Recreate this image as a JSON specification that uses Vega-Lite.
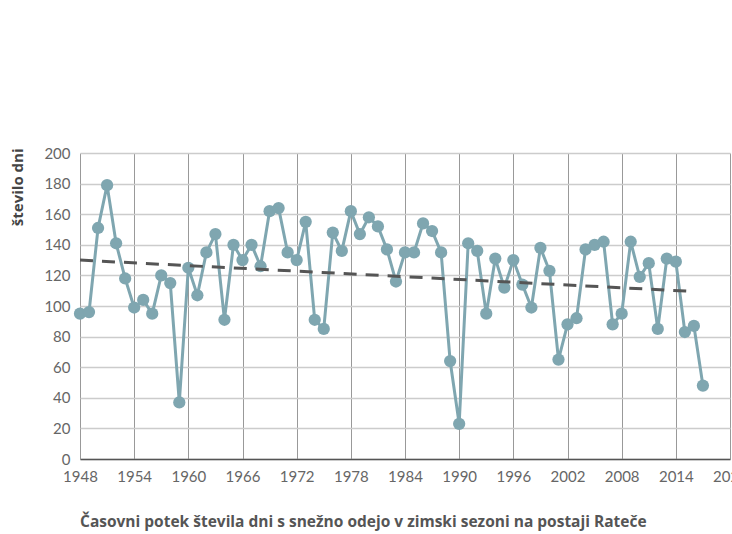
{
  "$schema": "https://vega.github.io/schema/vega-lite/v6.json",
  "width": 650,
  "height": 306,
  "autosize": {"type": "none"},
  "padding": {"left": 80, "top": 153, "right": 2, "bottom": 75},
  "background": "white",
  "config": {
    "view": {"stroke": null},
    "font": "Lato"
  },
  "title": {
    "text": "Časovni potek števila dni s snežno odejo v zimski sezoni na postaji Rateče",
    "orient": "bottom",
    "anchor": "start",
    "frame": "group",
    "offset": 31,
    "fontSize": 15.5,
    "fontWeight": "bold",
    "color": "#555555",
    "font": "Open Sans"
  },
  "datasets": {
    "snow": [
      {"leto": 1948, "dni": 95}, {"leto": 1949, "dni": 96}, {"leto": 1950, "dni": 151},
      {"leto": 1951, "dni": 179}, {"leto": 1952, "dni": 141}, {"leto": 1953, "dni": 118},
      {"leto": 1954, "dni": 99}, {"leto": 1955, "dni": 104}, {"leto": 1956, "dni": 95},
      {"leto": 1957, "dni": 120}, {"leto": 1958, "dni": 115}, {"leto": 1959, "dni": 37},
      {"leto": 1960, "dni": 125}, {"leto": 1961, "dni": 107}, {"leto": 1962, "dni": 135},
      {"leto": 1963, "dni": 147}, {"leto": 1964, "dni": 91}, {"leto": 1965, "dni": 140},
      {"leto": 1966, "dni": 130}, {"leto": 1967, "dni": 140}, {"leto": 1968, "dni": 126},
      {"leto": 1969, "dni": 162}, {"leto": 1970, "dni": 164}, {"leto": 1971, "dni": 135},
      {"leto": 1972, "dni": 130}, {"leto": 1973, "dni": 155}, {"leto": 1974, "dni": 91},
      {"leto": 1975, "dni": 85}, {"leto": 1976, "dni": 148}, {"leto": 1977, "dni": 136},
      {"leto": 1978, "dni": 162}, {"leto": 1979, "dni": 147}, {"leto": 1980, "dni": 158},
      {"leto": 1981, "dni": 152}, {"leto": 1982, "dni": 137}, {"leto": 1983, "dni": 116},
      {"leto": 1984, "dni": 135}, {"leto": 1985, "dni": 135}, {"leto": 1986, "dni": 154},
      {"leto": 1987, "dni": 149}, {"leto": 1988, "dni": 135}, {"leto": 1989, "dni": 64},
      {"leto": 1990, "dni": 23}, {"leto": 1991, "dni": 141}, {"leto": 1992, "dni": 136},
      {"leto": 1993, "dni": 95}, {"leto": 1994, "dni": 131}, {"leto": 1995, "dni": 112},
      {"leto": 1996, "dni": 130}, {"leto": 1997, "dni": 114}, {"leto": 1998, "dni": 99},
      {"leto": 1999, "dni": 138}, {"leto": 2000, "dni": 123}, {"leto": 2001, "dni": 65},
      {"leto": 2002, "dni": 88}, {"leto": 2003, "dni": 92}, {"leto": 2004, "dni": 137},
      {"leto": 2005, "dni": 140}, {"leto": 2006, "dni": 142}, {"leto": 2007, "dni": 88},
      {"leto": 2008, "dni": 95}, {"leto": 2009, "dni": 142}, {"leto": 2010, "dni": 119},
      {"leto": 2011, "dni": 128}, {"leto": 2012, "dni": 85}, {"leto": 2013, "dni": 131},
      {"leto": 2014, "dni": 129}, {"leto": 2015, "dni": 83}, {"leto": 2016, "dni": 87},
      {"leto": 2017, "dni": 48}
    ],
    "trend": [
      {"leto": 1948, "dni": 130},
      {"leto": 2016, "dni": 109.5}
    ]
  },
  "encoding": {
    "x": {
      "field": "leto",
      "type": "quantitative",
      "scale": {"domain": [1948, 2020], "nice": false, "zero": false},
      "axis": {
        "title": null,
        "values": [1948, 1954, 1960, 1966, 1972, 1978, 1984, 1990, 1996, 2002, 2008, 2014, 2020],
        "format": "d",
        "labelFontSize": 15,
        "labelColor": "#666666",
        "labelPadding": 10,
        "labelBound": false,
        "labelFlush": false,
        "labelOverlap": false,
        "ticks": false,
        "domainColor": "#555555",
        "domainWidth": 1.5,
        "grid": true,
        "gridColor": "#999999",
        "gridWidth": 1
      }
    },
    "y": {
      "field": "dni",
      "type": "quantitative",
      "scale": {"domain": [0, 200], "nice": false},
      "axis": {
        "title": "število dni",
        "titleFontSize": 15,
        "titleFontWeight": "bold",
        "titleColor": "#444444",
        "titleFont": "Open Sans",
        "titleAngle": -90,
        "titleBaseline": "bottom",
        "titleX": -55,
        "titleY": -5,
        "titleAlign": "right",
        "values": [0, 20, 40, 60, 80, 100, 120, 140, 160, 180, 200],
        "labelFontSize": 15,
        "labelColor": "#666666",
        "labelPadding": 10,
        "ticks": false,
        "domain": false,
        "grid": true,
        "gridColor": "#cccccc",
        "gridWidth": 1.5
      }
    }
  },
  "layer": [
    {
      "data": {"name": "snow"},
      "mark": {"type": "line", "color": "#7fa6b0", "strokeWidth": 3},
      "encoding": {}
    },
    {
      "data": {"name": "snow"},
      "mark": {"type": "point", "filled": true, "color": "#7fa6b0", "opacity": 1, "size": 150},
      "encoding": {}
    },
    {
      "data": {"name": "trend"},
      "mark": {"type": "line", "color": "#555555", "strokeWidth": 3, "strokeDash": [13, 9]},
      "encoding": {}
    }
  ]
}
